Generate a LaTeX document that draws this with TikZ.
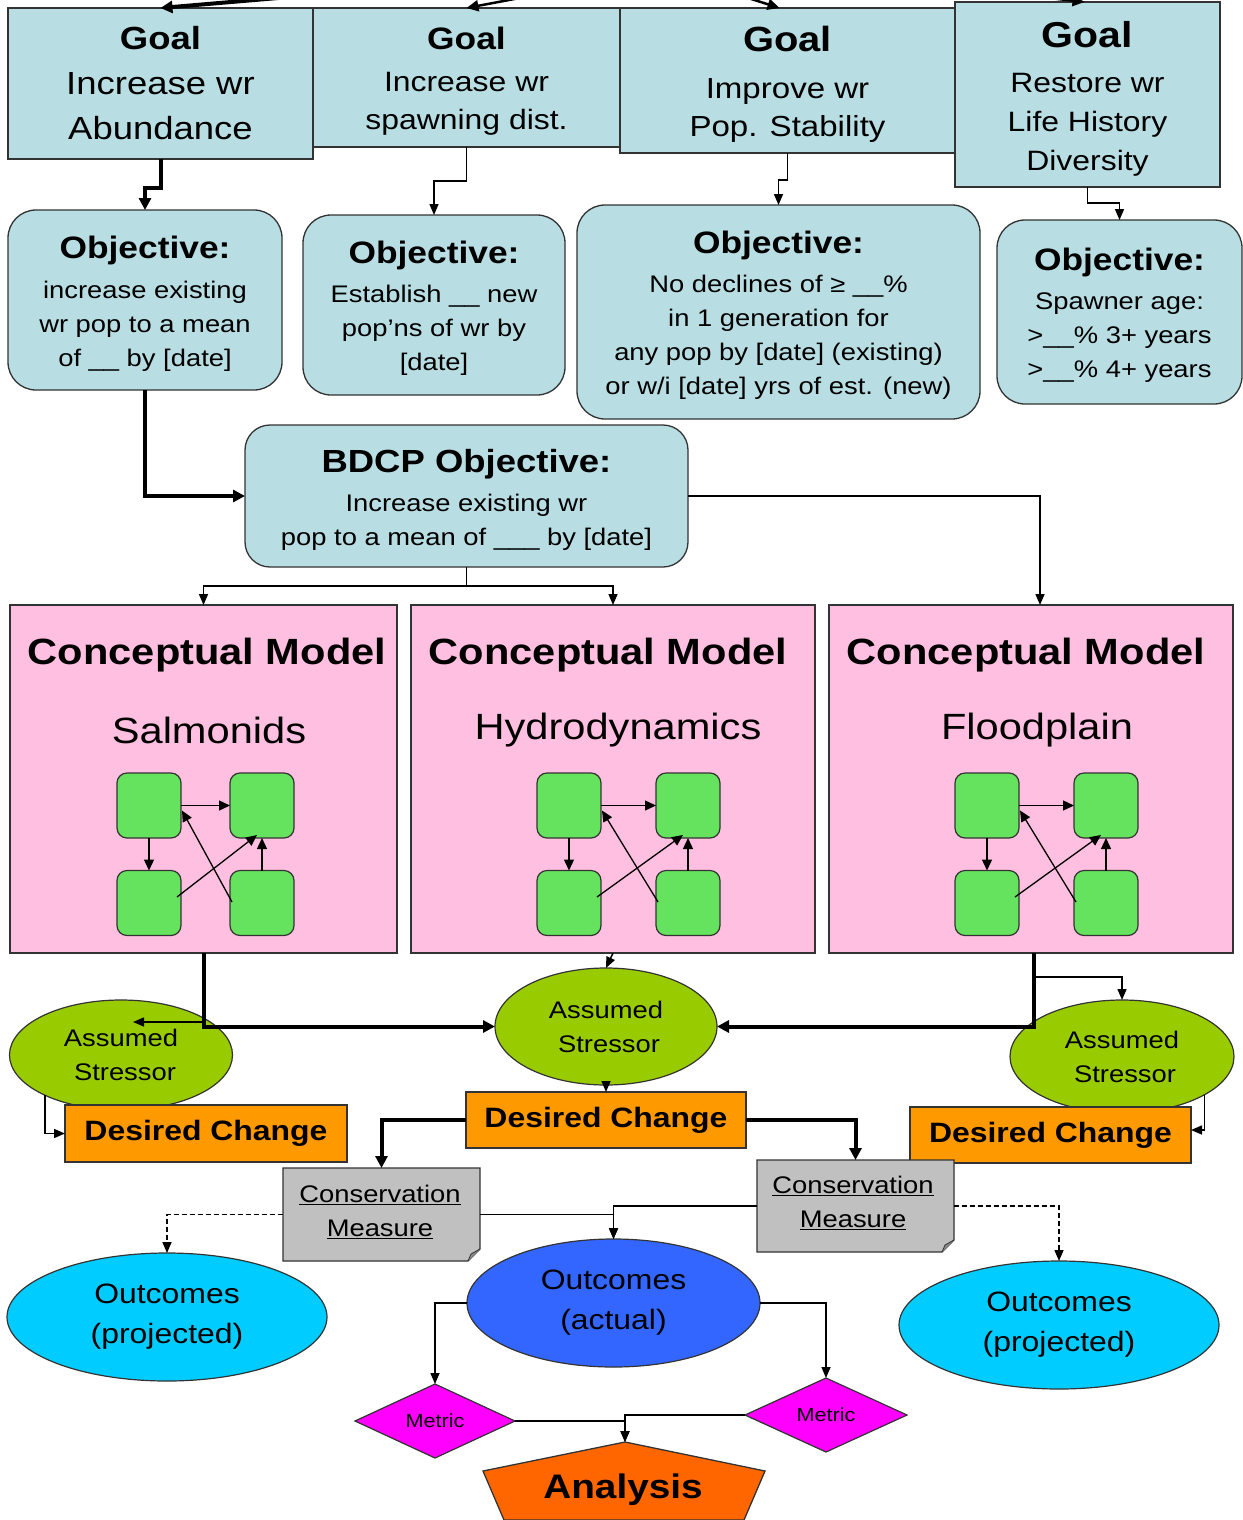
\documentclass[tikz,border=0pt]{standalone}
\usepackage{fontspec}
\setmainfont[FakeStretch=1.14]{Liberation Sans}
\usetikzlibrary{shapes.geometric,arrows.meta,calc}
\definecolor{goalblue}{HTML}{B8DEE3}
\definecolor{cmpink}{HTML}{FFBFE0}
\definecolor{sqgreen}{HTML}{66E35E}
\definecolor{stressgreen}{HTML}{99CC00}
\definecolor{dcorange}{HTML}{FF9900}
\definecolor{measgray}{HTML}{C0C0C0}
\definecolor{outcyan}{HTML}{00CCFF}
\definecolor{outblue}{HTML}{3366FF}
\definecolor{metmag}{HTML}{FF00FF}
\definecolor{anaorange}{HTML}{FF6600}
\newcommand{\fsz}[2]{\fontsize{#1}{#2}\selectfont}
\newcommand{\tpad}[1]{\rule{0pt}{#1}}
\newcommand{\minidiag}[3]{%
  \node[sq] (#1a) at (#2,805.5) {};
  \node[sq] (#1b) at (#3,805.5) {};
  \node[sq] (#1c) at (#2,903) {};
  \node[sq] (#1d) at (#3,903) {};
  \draw[mini] (#1a.east) -- (#1b.west);
  \draw[mini] (#1a.south) -- (#1c.north);
  \draw[mini] (#1d.north) -- (#1b.south);
  \draw[mini] ($(#1c.east)+(-4,-6)$) -- ($(#1b.south)+(-5,-3)$);
  \draw[mini] ($(#1d.west)+(2,-1)$) -- ($(#1a.east)+(1,5)$);
}
\newcommand{\notebox}[1]{%
  \filldraw[fill=measgray, draw=black!80, line width=1.3pt]
    (#1.north west) -- (#1.north east) -- ($(#1.south east)+(0,-12)$)
    -- ($(#1.south east)+(-12,0)$) -- (#1.south west) -- cycle;
  \filldraw[fill=black!45, draw=black!80, line width=0.8pt]
    ($(#1.south east)+(0,-12)$) -- ($(#1.south east)+(-9,-7)$) -- ($(#1.south east)+(-12,0)$);
}
\begin{document}
\begin{tikzpicture}[x=1pt,y=-1pt,
  every node/.style={inner sep=0pt, outer sep=0pt},
  box/.style={draw=black!80, line width=1.3pt, align=center},
  goal/.style={box, fill=goalblue},
  obj/.style={box, fill=goalblue, rounded corners=28pt, font=\fsz{24}{34}},
  cmbox/.style={draw=black!80, line width=1.3pt, fill=cmpink},
  cmtitle/.style={font=\fsz{36.5}{40}\bfseries},
  cmsub/.style={font=\fsz{36.5}{40}},
  sq/.style={draw=black!80, line width=1.2pt, fill=sqgreen, rounded corners=10pt, minimum width=64pt, minimum height=65pt},
  mini/.style={line width=1.3pt, -{Triangle[length=11pt,width=10pt]}},
  stress/.style={ellipse, draw=black!80, line width=1.2pt, fill=stressgreen, align=center, font=\fsz{24}{34}},
  dchg/.style={draw=black!80, line width=1.3pt, fill=dcorange, font=\fsz{28}{34}\bfseries},
  mtext/.style={align=center, font=\fsz{24}{34}},
  outc/.style={ellipse, draw=black!80, line width=1.2pt, align=center, font=\fsz{28}{40}},
  metric/.style={diamond, draw=black!80, fill=metmag, line width=1.2pt, aspect=2.16, font=\fsz{19}{22}},
  con/.style={line width=1.5pt, -{Triangle[length=11pt,width=9pt]}},
  med/.style={line width=2.5pt, -{Triangle[length=12pt,width=11pt]}},
  thk/.style={line width=4pt, -{Triangle[length=12pt,width=12pt]}},
  dsh/.style={con, dash pattern=on 5pt off 3pt},
]
\useasboundingbox (0,0) rectangle (1242,1520);
\fill[white] (0,0) rectangle (1242,1520);

% ---------- Goals ----------
\node[goal, minimum width=305pt, minimum height=151pt, font=\fsz{32}{45}] (g1) at (160.5,83.5)
  {\textbf{Goal}\\Increase wr\\Abundance};
\node[goal, minimum width=307pt, minimum height=139pt, font=\fsz{28}{38}] (g2) at (466.5,77.5)
  {\tpad{29pt}{\fsz{31}{38}\bfseries Goal}\\[4pt]Increase wr\\spawning dist.};
\node[goal, minimum width=335pt, minimum height=145pt, font=\fsz{29}{38}] (g3) at (787.5,80.5)
  {\tpad{34pt}{\fsz{35}{38}\bfseries Goal}\\[9pt]Improve wr\\Pop. Stability};
\node[goal, minimum width=265pt, minimum height=185pt, font=\fsz{28}{39}] (g4) at (1087.5,94.5)
  {\tpad{35pt}{\fsz{36}{39}\bfseries Goal}\\[6pt]Restore wr\\Life History\\Diversity};

% ---------- Objectives ----------
\node[obj, minimum width=274pt, minimum height=180pt] (o1) at (145,300)
  {\tpad{29pt}{\fsz{31}{34}\bfseries Objective:}\\[6pt]increase existing\\wr pop to a mean\\of \_\_ by {[date]}};
\node[obj, minimum width=262pt, minimum height=180pt] (o2) at (434,305)
  {\tpad{29pt}{\fsz{31}{34}\bfseries Objective:}\\[5pt]Establish \_\_ new\\pop’ns of wr by\\{[date]}};
\node[obj, minimum width=403pt, minimum height=214pt] (o3) at (778.5,312)
  {\tpad{29pt}{\fsz{31}{34}\bfseries Objective:}\\[5pt]No declines of ≥ \_\_\%\\in 1 generation for\\any pop by {[date]} (existing)\\or w/i {[date]} yrs of est. (new)};
\node[obj, minimum width=245pt, minimum height=184pt] (o4) at (1119.5,312)
  {\tpad{29pt}{\fsz{31}{34}\bfseries Objective:}\\[5pt]Spawner age:\\>\_\_\% 3+ years\\>\_\_\% 4+ years};

% ---------- BDCP ----------
\node[obj, rounded corners=25pt, minimum width=443pt, minimum height=142pt] (bdcp) at (466.5,496)
  {\tpad{30pt}{\fsz{32}{34}\bfseries BDCP Objective:}\\[5pt]Increase existing wr\\pop to a mean of \_\_\_ by {[date]}};

% ---------- Conceptual models ----------
\node[cmbox, minimum width=387pt, minimum height=348pt] (cm1) at (203.5,779) {};
\node[cmbox, minimum width=404pt, minimum height=348pt] (cm2) at (613,779) {};
\node[cmbox, minimum width=404pt, minimum height=348pt] (cm3) at (1031,779) {};
\node[cmtitle] (cm1t) at (207,655) {Conceptual Model};
\node[cmtitle] (cm2t) at (608,655) {Conceptual Model};
\node[cmtitle] (cm3t) at (1026,655) {Conceptual Model};
\node[cmsub] (cm1s) at (209,730) {Salmonids};
\node[cmsub] (cm2s) at (618,730) {Hydrodynamics};
\node[cmsub] (cm3s) at (1037,730) {Floodplain};
\minidiag{ma}{149}{262}
\minidiag{mb}{569}{688}
\minidiag{mc}{987}{1106}

% ---------- Stressors and desired change ----------
\node[stress, minimum width=223pt, minimum height=110pt] (s1) at (121,1055) {Assumed\\\hspace*{8pt}Stressor};
\node[stress, minimum width=222pt, minimum height=117pt] (s2) at (606,1026.5) {Assumed\\\hspace*{6pt}Stressor};
\node[stress, minimum width=224pt, minimum height=113pt] (s3) at (1122,1056.5) {Assumed\\\hspace*{6pt}Stressor};
\node[dchg, minimum width=282pt, minimum height=57pt] (dc1) at (206,1133.5) {Desired Change};
\node[dchg, minimum width=280pt, minimum height=56pt] (dc2) at (606,1120) {Desired Change};
\node[dchg, minimum width=281pt, minimum height=56pt] (dc3) at (1050.5,1135) {Desired Change};

% ---------- Conservation measures ----------
\node[minimum width=197pt, minimum height=93pt] (cme1) at (381.5,1214.5) {};
\notebox{cme1}
\node[mtext] (cme1t) at (380,1212) {\underline{Conservation}\\\underline{Measure}};
\node[minimum width=197pt, minimum height=92pt] (cme2) at (855.5,1206) {};
\notebox{cme2}
\node[mtext] (cme2t) at (853,1203) {\underline{Conservation}\\\underline{Measure}};

% ---------- Outcomes ----------
\node[outc, fill=outcyan, minimum width=320pt, minimum height=128pt] (outL) at (167,1317) {Outcomes\\(projected)};
\node[outc, fill=outblue, minimum width=293pt, minimum height=128pt] (outA) at (613.5,1303) {Outcomes\\(actual)};
\node[outc, fill=outcyan, minimum width=320pt, minimum height=128pt] (outR) at (1059,1325) {Outcomes\\(projected)};

% ---------- Metrics and analysis ----------
\node[metric, minimum width=160pt, minimum height=74pt] (ml) at (435,1421) {Metric};
\node[metric, minimum width=162pt, minimum height=74pt] (mr) at (826,1415) {Metric};
\coordinate (anatop) at (625,1442);
\coordinate (anaR) at (765,1471);
\coordinate (anaBR) at (744,1520);
\coordinate (anaBL) at (504,1520);
\coordinate (anaL) at (483,1471);
\filldraw[fill=anaorange, draw=black!80, line width=1.3pt] (anatop) -- (anaR) -- (anaBR) -- (anaBL) -- (anaL) -- cycle;
\node[font=\fsz{34}{38}\bfseries] (ana) at (623,1490) {Analysis};

% ---------- Connectors ----------
\coordinate (in1) at (290,-3);
\coordinate (in2) at (525,-3);
\coordinate (in3) at (745,-3);
\coordinate (in4) at (1040,-3);
\draw[thk] (in1) -- (g1.north);
\draw[med] (in2) -- (g2.north);
\draw[med] (in3) -- ([xshift=-8pt]g3.north);
\draw[med] (in4) -- ([xshift=-3pt]g4.north);

\draw[thk] (g1.south) -- ++(0,29) -| (o1.north);
\draw[con] (g2.south) -- ++(0,34) -| (o2.north);
\draw[con] (g3.south) -- ++(0,27) -| (o3.north);
\draw[con] (g4.south) -- ++(0,16) -| (o4.north);

\draw[thk] (o1.south) |- (bdcp.west);
\draw[con] (bdcp.east) -| ([xshift=9pt]cm3.north);
\draw[con] (bdcp.south) -- ++(0,19) -| (cm1.north);
\draw[con] (bdcp.south) -- ++(0,19) -| (cm2.north);

\coordinate (s1in) at (133,1022);
\draw[con] (cm1.south) |- (s1in);
\draw[thk] (cm1.south) |- (s2.west);
\draw[con] (cm2.south) -- (s2.north);
\draw[thk] ([xshift=3pt]cm3.south) |- (s2.east);
\draw[con] ($(cm3.south)+(3,24)$) -| (s3.north);

\draw[con] (s1.208) |- (dc1.west);
\draw[con] (s2.south) -- (dc2.north);
\draw[con] (s3.-25) |- ([yshift=5pt]dc3.east);

\draw[thk] (dc2.west) -| (cme1.north);
\draw[thk] (dc2.east) -| (cme2.north);

\draw[dsh] (cme1.west) -| (outL.north);
\draw[con] (cme1.east) -| (outA.north);
\draw[con] (cme2.west) -| (outA.north);
\draw[dsh] (cme2.east) -| (outR.north);

\draw[con] (outA.west) -| (ml.north);
\draw[con] (outA.east) -| (mr.north);
\draw[con] (ml.east) -| (anatop);
\draw[con] (mr.west) -| (anatop);
\end{tikzpicture}
\end{document}
